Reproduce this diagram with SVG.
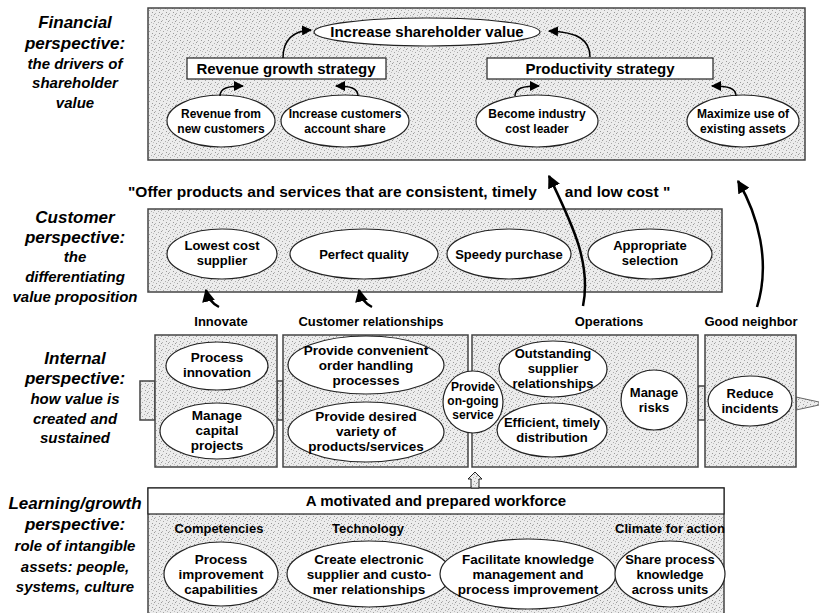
<svg xmlns="http://www.w3.org/2000/svg" width="819" height="613" viewBox="0 0 819 613">
<defs>
<pattern id="dots" width="7" height="7" patternUnits="userSpaceOnUse">
<rect width="7" height="7" fill="#ececec"/>
<rect x="0" y="0" width="1" height="1" fill="#9a9a9a"/>
<rect x="4" y="1" width="1" height="1" fill="#b0b0b0"/>
<rect x="2" y="3" width="1" height="1" fill="#a5a5a5"/>
<rect x="5" y="5" width="1" height="1" fill="#999"/>
<rect x="6" y="2" width="1" height="1" fill="#bdbdbd"/>
<rect x="1" y="6" width="1" height="1" fill="#b5b5b5"/>
</pattern>
<marker id="ah" viewBox="0 0 10 10" refX="9" refY="5" markerWidth="10" markerHeight="10" markerUnits="userSpaceOnUse" orient="auto">
<path d="M0,0 L10,5 L0,10 z" fill="#000"/>
</marker>
<marker id="ahb" viewBox="0 0 10 10" refX="9" refY="5" markerWidth="13" markerHeight="13" markerUnits="userSpaceOnUse" orient="auto">
<path d="M0,0 L10,5 L0,10 z" fill="#000"/>
</marker>
</defs>
<style>
.box{fill:url(#dots);stroke:#444;stroke-width:1.5}
.wbox{fill:#fff;stroke:#222;stroke-width:1.2}
.ell{fill:#fff;stroke:#222;stroke-width:1.2}
.t{font-family:"Liberation Sans",Arial,sans-serif;font-weight:bold;fill:#000;text-anchor:middle}
.s12{font-size:12px}
.s13{font-size:13px}
.s14{font-size:13.5px}
.s15{font-size:15px}
.lh{font-family:"Liberation Sans",Arial,sans-serif;font-weight:bold;font-style:italic;font-size:17px;text-anchor:middle;fill:#000}
.ls{font-family:"Liberation Sans",Arial,sans-serif;font-weight:bold;font-style:italic;font-size:15px;text-anchor:middle;fill:#000}
.arr{fill:none;stroke:#000;stroke-width:1.5}
.arrb{fill:none;stroke:#000;stroke-width:2.5}
</style>

<g id="left-labels">
<text class="lh" x="75" y="28">Financial</text>
<text class="lh" x="75" y="49">perspective:</text>
<text class="ls" x="75" y="69">the drivers of</text>
<text class="ls" x="75" y="88">shareholder</text>
<text class="ls" x="75" y="108">value</text>
<text class="lh" x="75" y="223">Customer</text>
<text class="lh" x="75" y="243">perspective:</text>
<text class="ls" x="75" y="262">the</text>
<text class="ls" x="75" y="282">differentiating</text>
<text class="ls" x="75" y="302">value proposition</text>
<text class="lh" x="75" y="364">Internal</text>
<text class="lh" x="75" y="384">perspective:</text>
<text class="ls" x="75" y="404">how value is</text>
<text class="ls" x="75" y="424">created and</text>
<text class="ls" x="75" y="443">sustained</text>
<text class="lh" x="75" y="509">Learning/growth</text>
<text class="lh" x="75" y="530">perspective:</text>
<text class="ls" x="75" y="551">role of intangible</text>
<text class="ls" x="75" y="572">assets: people,</text>
<text class="ls" x="75" y="592">systems, culture</text>
</g>

<g id="financial-box"><rect class="box" x="148" y="8" width="657" height="152"/></g>
<g id="customer-box"><rect class="box" x="148" y="209" width="574" height="83"/></g>

<g id="internal-tabs">
<rect class="box" x="140" y="381" width="15" height="39"/>
<rect class="box" x="277" y="381" width="6" height="39"/>
<rect class="box" x="468" y="381" width="4" height="39"/>
<rect class="box" x="698" y="386" width="7" height="34"/>
<polygon points="796,397 819,402 819,405 796,410" fill="url(#dots)" stroke="#666" stroke-width="1"/>
</g>
<g id="innovate-box"><rect class="box" x="155" y="335" width="122" height="132"/></g>
<g id="custrel-box"><rect class="box" x="283" y="335" width="185" height="132"/></g>
<g id="operations-box"><rect class="box" x="472" y="335" width="226" height="132"/></g>
<g id="goodneighbor-box"><rect class="box" x="705" y="335" width="91" height="132"/></g>

<g id="learning-box">
<rect class="box" x="148" y="488" width="576" height="135"/>
<rect class="wbox" x="148" y="488" width="576" height="26" stroke="#444" stroke-width="1.5"/>
<text class="t s15" x="436" y="506">A motivated and prepared workforce</text>
</g>

<g id="increase-shareholder-value">
<ellipse class="ell" cx="427" cy="32" rx="113" ry="14"/>
<text class="t s15" x="427" y="37">Increase shareholder value</text>
</g>
<g id="revenue-growth-strategy">
<rect class="wbox" x="187" y="58" width="199" height="21"/>
<text class="t s15" x="286" y="74">Revenue growth strategy</text>
</g>
<g id="productivity-strategy">
<rect class="wbox" x="487" y="58" width="226" height="21"/>
<text class="t s15" x="600" y="74">Productivity strategy</text>
</g>
<g id="revenue-new-customers">
<ellipse class="ell" cx="221" cy="121" rx="54" ry="26"/>
<text class="t s12" x="221" y="118">Revenue from</text>
<text class="t s12" x="221" y="133">new customers</text>
</g>
<g id="increase-account-share">
<ellipse class="ell" cx="345" cy="121" rx="64" ry="26"/>
<text class="t s12" x="345" y="118">Increase customers</text>
<text class="t s12" x="345" y="133">account share</text>
</g>
<g id="cost-leader">
<ellipse class="ell" cx="537" cy="121" rx="61" ry="26"/>
<text class="t s12" x="537" y="118">Become industry</text>
<text class="t s12" x="537" y="133">cost leader</text>
</g>
<g id="maximize-assets">
<ellipse class="ell" cx="743" cy="121" rx="56" ry="26"/>
<text class="t s12" x="743" y="118">Maximize use of</text>
<text class="t s12" x="743" y="133">existing assets</text>
</g>

<g id="value-proposition">
<text class="t" style="font-size:15.5px;text-anchor:start" x="128" y="197">"Offer products and services that are consistent, timely<tspan dx="28">and low cost "</tspan></text>
</g>
<g id="lowest-cost">
<ellipse class="ell" cx="222" cy="254" rx="55" ry="25"/>
<text class="t s13" x="222" y="250">Lowest cost</text>
<text class="t s13" x="222" y="265">supplier</text>
</g>
<g id="perfect-quality">
<ellipse class="ell" cx="364" cy="254" rx="74" ry="25"/>
<text class="t s13" x="364" y="259">Perfect quality</text>
</g>
<g id="speedy-purchase">
<ellipse class="ell" cx="509" cy="254" rx="62" ry="25"/>
<text class="t s13" x="509" y="259">Speedy purchase</text>
</g>
<g id="appropriate-selection">
<ellipse class="ell" cx="650" cy="254" rx="62" ry="25"/>
<text class="t s13" x="650" y="250">Appropriate</text>
<text class="t s13" x="650" y="265">selection</text>
</g>

<g id="process-labels">
<text class="t s13" x="221" y="326">Innovate</text>
<text class="t s13" x="371" y="326">Customer relationships</text>
<text class="t s13" x="609" y="326">Operations</text>
<text class="t s13" x="751" y="326">Good neighbor</text>
</g>

<g id="process-innovation">
<ellipse class="ell" cx="217" cy="366" rx="51" ry="24"/>
<text class="t s14" x="217" y="362">Process</text>
<text class="t s14" x="217" y="377">innovation</text>
</g>
<g id="capital-projects">
<ellipse class="ell" cx="217" cy="431" rx="57" ry="28"/>
<text class="t s14" x="217" y="420">Manage</text>
<text class="t s14" x="217" y="435">capital</text>
<text class="t s14" x="217" y="450">projects</text>
</g>
<g id="order-handling">
<ellipse class="ell" cx="366" cy="365" rx="78" ry="29"/>
<text class="t s14" x="366" y="355">Provide convenient</text>
<text class="t s14" x="366" y="370">order handling</text>
<text class="t s14" x="366" y="385">processes</text>
</g>
<g id="desired-variety">
<ellipse class="ell" cx="366" cy="432" rx="78" ry="30"/>
<text class="t s14" x="366" y="421">Provide desired</text>
<text class="t s14" x="366" y="436">variety of</text>
<text class="t s14" x="366" y="451">products/services</text>
</g>
<g id="ongoing-service">
<ellipse class="ell" cx="473" cy="402" rx="30" ry="31"/>
<text class="t s12" x="473" y="391">Provide</text>
<text class="t s12" x="473" y="405">on-going</text>
<text class="t s12" x="473" y="419">service</text>
</g>
<g id="supplier-relationships">
<ellipse class="ell" cx="553" cy="369" rx="54" ry="28"/>
<text class="t s13" x="553" y="358">Outstanding</text>
<text class="t s13" x="553" y="373">supplier</text>
<text class="t s13" x="553" y="388">relationships</text>
</g>
<g id="timely-distribution">
<ellipse class="ell" cx="552" cy="430" rx="55" ry="27"/>
<text class="t s13" x="552" y="427">Efficient, timely</text>
<text class="t s13" x="552" y="442">distribution</text>
</g>
<g id="manage-risks">
<ellipse class="ell" cx="654" cy="400" rx="33" ry="30"/>
<text class="t s13" x="654" y="397">Manage</text>
<text class="t s13" x="654" y="412">risks</text>
</g>
<g id="reduce-incidents">
<ellipse class="ell" cx="750" cy="401" rx="42" ry="25"/>
<text class="t s13" x="750" y="398">Reduce</text>
<text class="t s13" x="750" y="413">incidents</text>
</g>

<g id="learning-labels">
<text class="t s13" x="219" y="533">Competencies</text>
<text class="t s13" x="368" y="533">Technology</text>
<text class="t s13" x="670" y="533">Climate for action</text>
</g>
<g id="process-improvement-capabilities">
<ellipse class="ell" cx="221" cy="574" rx="57" ry="32"/>
<text class="t s14" x="221" y="564">Process</text>
<text class="t s14" x="221" y="579">improvement</text>
<text class="t s14" x="221" y="594">capabilities</text>
</g>
<g id="electronic-relationships">
<ellipse class="ell" cx="369" cy="574" rx="82" ry="33"/>
<text class="t s14" x="369" y="564">Create electronic</text>
<text class="t s14" x="369" y="579">supplier and custo-</text>
<text class="t s14" x="369" y="594">mer relationships</text>
</g>
<g id="knowledge-management">
<ellipse class="ell" cx="528" cy="574" rx="88" ry="35"/>
<text class="t s14" x="528" y="564">Facilitate knowledge</text>
<text class="t s14" x="528" y="579">management and</text>
<text class="t s14" x="528" y="594">process improvement</text>
</g>
<g id="share-knowledge">
<ellipse class="ell" cx="670" cy="574" rx="55" ry="33"/>
<text class="t s13" x="670" y="564">Share process</text>
<text class="t s13" x="670" y="579">knowledge</text>
<text class="t s13" x="670" y="594">across units</text>
</g>

<g id="connectors">
<path class="arr" d="M283,58 C283,40 292,31 311,30" marker-end="url(#ah)"/>
<path class="arr" d="M590,57 C590,40 578,32 549,31" marker-end="url(#ah)"/>
<path class="arr" d="M220,96 C220,88 228,86 243,86" marker-end="url(#ah)"/>
<path class="arr" d="M358,96 C358,88 350,86 336,86" marker-end="url(#ah)"/>
<path class="arr" d="M515,96 C515,88 523,86 539,86" marker-end="url(#ah)"/>
<path class="arr" d="M736,96 C736,88 728,86 712,86" marker-end="url(#ah)"/>
<path class="arrb" d="M219,307 C213,304 208,299 206,290" marker-end="url(#ahb)"/>
<path class="arrb" d="M372,307 C366,304 361,299 359,290" marker-end="url(#ahb)"/>
<path class="arrb" d="M583,306 C592,262 570,220 549,176" marker-end="url(#ahb)"/>
<path class="arrb" d="M757,307 C771,262 758,215 738,181" marker-end="url(#ahb)"/>
<polygon points="471,488 471,479 468,479 475,472 482,479 479,479 479,488" fill="url(#dots)" stroke="#222" stroke-width="1"/>
</g>
</svg>
